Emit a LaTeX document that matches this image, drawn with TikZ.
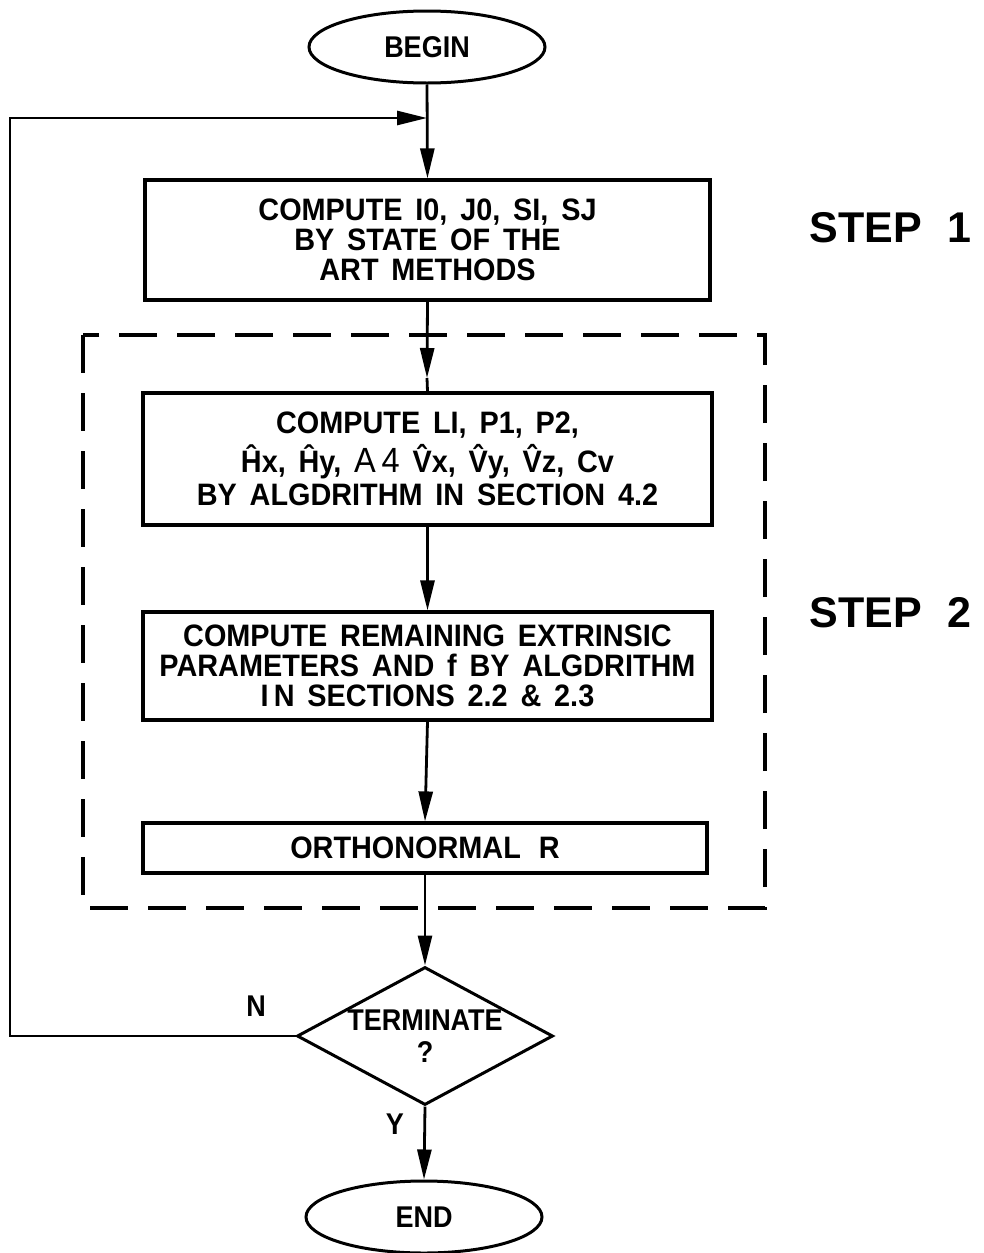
\documentclass[tikz,border=0pt]{standalone}
\usepackage{fontspec}
\setmainfont{Liberation Sans}
\newfontfamily\bx[FakeStretch=0.93,WordSpace=1.6]{Liberation Sans}
\newfontfamily\lt[FakeStretch=0.9]{Liberation Sans}
\usetikzlibrary{shapes.geometric,arrows.meta}
\begin{document}
\begin{tikzpicture}[x=1pt,y=-1pt,
  boxnode/.style={draw,line width=3.2pt,rectangle,inner sep=0pt,align=center,
    font=\bx\bfseries\fontsize{31}{30}\selectfont},
  termnode/.style={draw,line width=3pt,ellipse,inner sep=0pt,
    minimum width=236pt,minimum height=72pt,font=\lt\bfseries\fontsize{30}{30}\selectfont},
  conn/.style={line width=2.8pt},
  arr/.style={line width=2.8pt,-{Triangle[length=30pt,width=14pt]}},
  steplabel/.style={font=\bfseries\fontsize{43}{43}\selectfont,anchor=east,inner sep=0pt},
  yn/.style={font=\lt\bfseries\fontsize{30}{30}\selectfont,inner sep=0pt}
]
\useasboundingbox (0,0) rectangle (983,1253);

% nodes
\node[termnode] (begin) at (427,47) {BEGIN};
\node[boxnode,minimum width=565pt,minimum height=120pt] (box1) at (427.5,240)
  {COMPUTE I0, J0, SI, SJ\\BY STATE OF THE\\ART METHODS};
\node[boxnode,minimum width=569pt,minimum height=132pt] (box2) at (427.5,459)
  {COMPUTE LI, P1, P2,\\[5pt]
   \^{H}x, \^{H}y, {\mdseries\fontsize{35}{35}\selectfont A\,4} \^{V}x, \^{V}y, \^{V}z, Cv\\[3pt]
   BY ALGDRITHM IN SECTION 4.2};
\node[boxnode,minimum width=569pt,minimum height=108pt] (box3) at (427.5,666)
  {COMPUTE REMAINING EXTRINSIC\\PARAMETERS AND f BY ALGDRITHM\\I\,N SECTIONS 2.2 \& 2.3};
\node[boxnode,minimum width=564pt,minimum height=50pt] (box4) at (425,848)
  {ORTHONORMAL \,R};
\node[draw,line width=3pt,diamond,inner sep=0pt,minimum width=256pt,minimum height=138pt,
  label={[align=center,font=\lt\bfseries\fontsize{30}{32}\selectfont]center:TERMINATE\\?}] (term) at (425,1036) {};
\node[termnode] (end) at (424,1217) {END};

% dashed group
\draw[line width=3.2pt,dash pattern=on 38pt off 20pt] (83,335) rectangle (765,908);

% labels
\node[steplabel] (s1) at (972,228) {STEP\hspace{0.6em}1};
\node[steplabel] (s2) at (972,613) {STEP\hspace{0.6em}2};
\node[yn] (nlab) at (256,1006) {N};
\node[yn] (ylab) at (395,1124) {Y};

% connectors
\coordinate (join) at (427,118);
\coordinate (tip12) at (427,378);
\draw[arr] (begin.south) -- (box1.north);
\draw[arr] (term.west) -- (10,1036) -- (10,118) -- (join);
\draw[arr] (box1.south) -- (tip12);
\draw[conn] (tip12) -- (box2.north);
\draw[arr] (box2.south) -- (box3.north);
\draw[arr] (box3.south) -- (box4.north);
\draw[arr] (box4.south) -- (term.north);
\draw[arr] (term.south) -- (end.north);
\end{tikzpicture}
\end{document}
